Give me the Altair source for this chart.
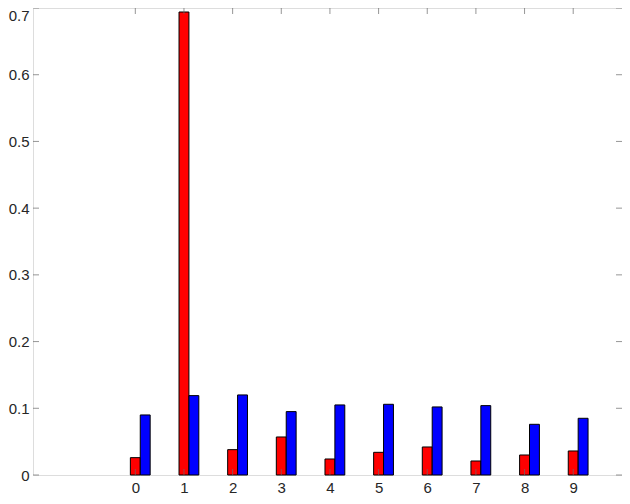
import altair as alt
import pandas as pd

digits = list(range(10))
red_vals = [0.026, 0.694, 0.038, 0.057, 0.024, 0.034, 0.042, 0.021, 0.030, 0.036]
blue_vals = [0.090, 0.119, 0.120, 0.095, 0.105, 0.106, 0.102, 0.104, 0.076, 0.085]
x_ticks = list(range(10))
y_ticks = [0, 0.1, 0.2, 0.3, 0.4, 0.5, 0.6, 0.7]

W, H = 589, 467
AX = "#6a6a6a"
FONT = "Liberation Sans"
FS = 15

df = pd.DataFrame({"digit": digits, "red": red_vals, "blue": blue_vals})
xt = pd.DataFrame({"t": x_ticks})
yt = pd.DataFrame({"t": y_ticks})

xs = alt.Scale(domain=[-2, 9.9], nice=False, zero=False)
ys = alt.Scale(domain=[0, 0.7], nice=False)

xaxis = alt.Axis(values=x_ticks, title=None, ticks=False, domain=False, grid=False,
                 labelPadding=5, labelFont=FONT, labelFontSize=FS, labelColor="#262626")
yaxis = alt.Axis(values=y_ticks, title=None, ticks=False, domain=False, grid=False,
                 labelPadding=4, labelFont=FONT, labelFontSize=FS, labelColor="#262626",
                 format="~g",
                 labelBaseline={"condition": {"test": "datum.value >= 0.69", "value": "top"},
                                "value": "middle"})

bw = 9.9
red = alt.Chart(df).mark_bar(width=bw, color="#ff0000", stroke="black", strokeWidth=1).encode(
    x=alt.X("digit:Q", scale=xs, axis=xaxis),
    y=alt.Y("red:Q", scale=ys, axis=yaxis),
)
blue = alt.Chart(df).mark_bar(width=bw, xOffset=bw, color="#0000ff", stroke="black", strokeWidth=1).encode(
    x=alt.X("digit:Q", scale=xs),
    y=alt.Y("blue:Q", scale=ys),
)

tick_len = 6
xt_bottom = alt.Chart(xt).mark_tick(orient="vertical", size=tick_len, color=AX, thickness=1).encode(
    x=alt.X("t:Q", scale=xs), y=alt.value(H - tick_len / 2))
xt_top = alt.Chart(xt).mark_tick(orient="vertical", size=tick_len, color=AX, thickness=1).encode(
    x=alt.X("t:Q", scale=xs), y=alt.value(tick_len / 2))
yt_left = alt.Chart(yt).mark_tick(orient="horizontal", size=tick_len, color=AX, thickness=1).encode(
    y=alt.Y("t:Q", scale=ys), x=alt.value(tick_len / 2))
yt_right = alt.Chart(yt).mark_tick(orient="horizontal", size=tick_len, color=AX, thickness=1).encode(
    y=alt.Y("t:Q", scale=ys), x=alt.value(W - tick_len / 2))

chart = alt.layer(red, blue, xt_bottom, xt_top, yt_left, yt_right).properties(
    width=W, height=H,
    autosize=alt.AutoSizeParams(type="none"),
    padding={"left": 25, "top": 0, "right": 0, "bottom": 21},
).configure_view(stroke=AX, strokeWidth=1.2).configure(background="white")

chart.save("out.html", embed_options={"renderer": "svg", "actions": False})
